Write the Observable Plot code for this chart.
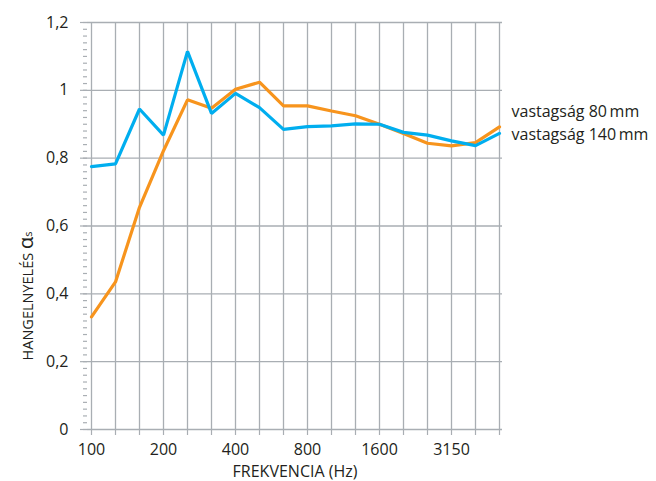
<!DOCTYPE html>
<html><head><meta charset="utf-8">
<script src="https://cdn.jsdelivr.net/npm/d3@7"></script>
<script src="https://cdn.jsdelivr.net/npm/@observablehq/plot@0.6"></script>
<style>
body{margin:0;background:#fff}
#chart svg{font-family:"Open Sans",sans-serif;}
</style>
</head><body><div id="chart"></div>
<script>
const frequencies = ["100","125","160","200","250","315","400","500","630","800","1000","1250","1600","2000","2500","3150","4000","5000"];
const labeledFrequencies = ["100","200","400","800","1600","3150"];
const absorption80 = [0.332,0.435,0.655,0.822,0.972,0.947,1.003,1.024,0.954,0.954,0.939,0.925,0.900,0.873,0.844,0.836,0.846,0.892];
const absorption140 = [0.775,0.783,0.945,0.868,1.115,0.932,0.991,0.949,0.885,0.893,0.895,0.901,0.900,0.876,0.868,0.851,0.837,0.873];
const yTicks = [0,0.2,0.4,0.6,0.8,1,1.2];
const yMinorTicks = [0,0.02,0.04,0.06,0.08,0.1,0.12,0.14,0.16,0.18,0.2,0.22,0.24,0.26,0.28,0.3,0.32,0.34,0.36,0.38,0.4,0.42,0.44,0.46,0.48,0.5,0.52,0.54,0.56,0.58,0.6,0.62,0.64,0.66,0.68,0.7,0.72,0.74,0.76,0.78,0.8,0.82,0.84,0.86,0.88,0.9,0.92,0.94,0.96,0.98,1,1.02,1.04,1.06,1.08,1.1,1.12,1.14,1.16,1.18,1.2];
const seriesNames = ["vastagság 80\u2009mm", "vastagság 140\u2009mm"];
const seriesColors = ["#f7941d", "#00aeef"];
const legendDy = [-15, 1];

const series = [absorption80, absorption140].map((vals, s) =>
  frequencies.map((f, i) => ({freq: f, value: vals[i], series: seriesNames[s]})));
const ends = series.map((d, s) => ({...d[d.length - 1], dy: legendDy[s]}));

const gridColor = "#a9aeb3";
const textColor = "#231f20";

const chart = Plot.plot({
  width: 656,
  height: 481,
  marginLeft: 87,
  marginRight: 154,
  marginTop: 22,
  marginBottom: 52,
  style: {fontSize: "16px", color: textColor, fontFamily: "'Open Sans', sans-serif"},
  x: {type: "point", domain: frequencies, padding: 0},
  y: {domain: [0, 1.2]},
  color: {domain: seriesNames, range: seriesColors},
  marks: [
    Plot.gridX(frequencies, {stroke: gridColor, strokeOpacity: 1, strokeWidth: 1.3}),
    Plot.gridY(yTicks, {stroke: gridColor, strokeOpacity: 1, strokeWidth: 1.3}),
    Plot.axisY(yMinorTicks, {tickSize: 4, tickFormat: () => "", stroke: gridColor, strokeWidth: 1.2, label: null}),
    Plot.axisY(yTicks, {tickSize: 7, tickPadding: 12, stroke: gridColor, strokeWidth: 1.2, fontSize: 16,
      tickFormat: d => String(d).replace(".", ","), fill: textColor, label: null}),
    Plot.axisX(frequencies, {tickSize: 6, tickPadding: 8, stroke: gridColor, strokeWidth: 1.2, fill: textColor, fontSize: 16,
      tickFormat: d => labeledFrequencies.includes(d) ? d : "", label: null}),
    Plot.line(series[0], {x: "freq", y: "value", stroke: seriesColors[0], strokeWidth: 3.2, strokeLinejoin: "miter"}),
    Plot.line(series[1], {x: "freq", y: "value", stroke: seriesColors[1], strokeWidth: 3.2, strokeLinejoin: "miter"}),
    Plot.text([ends[0]], {x: "freq", y: "value", text: "series", dx: 12, dy: legendDy[0], textAnchor: "start", fill: textColor, fontSize: 16}),
    Plot.text([ends[1]], {x: "freq", y: "value", text: "series", dx: 12, dy: legendDy[1], textAnchor: "start", fill: textColor, fontSize: 16}),
    Plot.text(["FREKVENCIA (Hz)"], {frameAnchor: "bottom", text: d => d, dy: 47, fill: textColor, fontSize: 16})
  ]
});

document.getElementById("chart").append(chart);

// y-axis title with large alpha and subscript s
const svg = d3.select(chart);
const t = svg.append("text")
  .attr("transform", "translate(33,296) rotate(-90)")
  .attr("text-anchor", "middle")
  .attr("fill", textColor)
  .style("font-family", "'Open Sans', sans-serif");
t.append("tspan").attr("font-size", 14.5).text("HANGELNYELÉS ");
t.append("tspan").attr("font-size", 20).text("α");
t.append("tspan").attr("font-size", 11).attr("dy", -1).text("s");
</script>
</body></html>
